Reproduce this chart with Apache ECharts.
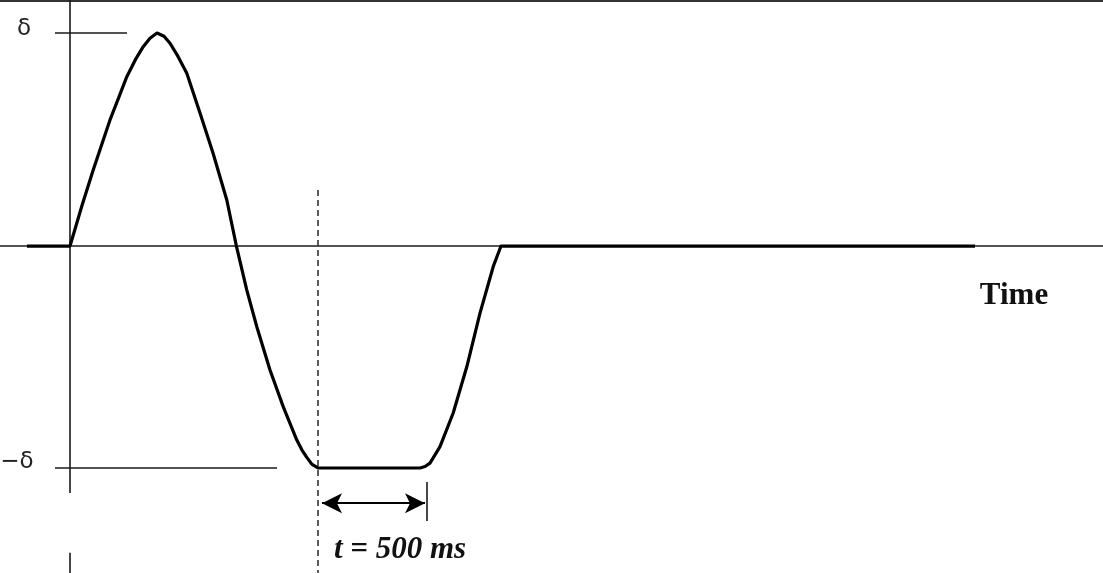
<!DOCTYPE html>
<html>
<head>
<meta charset="utf-8">
<script src="https://cdn.jsdelivr.net/npm/echarts@6/dist/echarts.min.js"></script>
<style>
html,body{margin:0;padding:0;background:#fff;}
#c{width:1103px;height:573px;}
</style>
</head>
<body>
<div id="c"></div>
<script>
// Signal: time in ms, displacement in units of delta
const curveT = [-215, 0, 60, 116, 160, 200, 245, 284, 330, 366, 400, 435, 470, 500, 540, 584, 650, 715, 784, 832, 884, 934, 1000, 1066, 1134, 1160, 1184, 1210, 1240, 1750, 1775, 1800, 1850, 1916, 1984, 2050, 2116, 2155, 4525];
const curveV = [0, 0, 0.19, 0.357, 0.48, 0.592, 0.70, 0.795, 0.88, 0.936, 0.975, 1.0, 0.985, 0.952, 0.89, 0.811, 0.624, 0.437, 0.216, 0, -0.207, -0.379, -0.582, -0.754, -0.911, -0.958, -0.992, -1.025, -1.042, -1.042, -1.035, -1.019, -0.942, -0.784, -0.567, -0.315, -0.097, 0, 0];
// level markers (delta and -delta)
const levelLabels = ['δ', '−δ'];
const levelValues = [1.0, -1.042];
const levelTickStart = [-75, -75];
const levelTickEnd = [285, 1035];
// vertical (displacement) axis segments at t = 0
const vAxisSegments = [[1.16, -1.16], [-1.44, -1.54]];
// dwell annotation
const dwellStart = 1240;      // dashed reference line
const dwellArrowFrom = 1260;
const dwellArrowTo = 1775;
const dwellBarT = 1785;
const dwellArrowLevel = -1.207;
const dwellBarRange = [-1.108, -1.291];
const dwellLabel = 't = 500 ms';
const axisTitle = 'Time';

const chart = echarts.init(document.getElementById('c'), null, {renderer: 'canvas'});
const curveData = curveT.map((t, i) => [t, curveV[i]]);
const ink = '#1a1a1a';

const series = [
  {
    type: 'line', data: curveData, showSymbol: false, smooth: false,
    lineStyle: {color: '#000', width: 3.2, join: 'round'}, z: 5, silent: true
  }
];
vAxisSegments.forEach(seg => {
  series.push({type: 'line', data: [[0, seg[0]], [0, seg[1]]], showSymbol: false,
    lineStyle: {color: ink, width: 1.6}, silent: true});
});
levelValues.forEach((v, i) => {
  series.push({type: 'line', data: [[levelTickStart[i], v], [levelTickEnd[i], v]], showSymbol: false,
    lineStyle: {color: ink, width: 1.6}, silent: true});
});
series.push({type: 'line', data: [[dwellStart, 0.263], [dwellStart, -1.54]], showSymbol: false,
  lineStyle: {color: '#333', width: 1.6, type: [6, 4]}, silent: true});
series.push({type: 'line', data: [[dwellBarT, dwellBarRange[0]], [dwellBarT, dwellBarRange[1]]], showSymbol: false,
  lineStyle: {color: ink, width: 1.6}, silent: true});
series.push({type: 'line', data: [], silent: true,
  markLine: {
    silent: true, symbol: ['arrow', 'arrow'], symbolSize: [15, 20],
    label: {show: false},
    lineStyle: {color: '#000', width: 1.8, type: 'solid'},
    data: [[{coord: [dwellArrowFrom, dwellArrowLevel]}, {coord: [dwellArrowTo, dwellArrowLevel]}]]
  }});

chart.setOption({
  animation: false,
  backgroundColor: '#fff',
  grid: {left: 0, right: 0, top: 0, bottom: 0},
  xAxis: {
    type: 'value', min: -350, max: 5165,
    axisLine: {show: true, onZero: true, lineStyle: {color: ink, width: 1.6}},
    axisTick: {show: false}, axisLabel: {show: false}, splitLine: {show: false}
  },
  yAxis: {
    type: 'value', min: -1.535, max: 1.155, show: false,
    splitLine: {show: false}
  },
  series: series,
  graphic: [
    {type: 'rect', shape: {x: 0, y: 0, width: 1103, height: 2}, style: {fill: '#333'}},
    {type: 'text', x: 24, y: 29, style: {text: levelLabels[0], font: '23px "DejaVu Sans"', fill: '#222', align: 'center', verticalAlign: 'middle'}},
    {type: 'text', x: 17, y: 462, style: {text: levelLabels[1], font: '23px "DejaVu Sans"', fill: '#222', align: 'center', verticalAlign: 'middle'}},
    {type: 'text', x: 1014, y: 296, style: {text: axisTitle, font: 'bold 31px "Liberation Serif"', fill: '#111', align: 'center', verticalAlign: 'middle'}},
    {type: 'text', x: 400, y: 550, style: {text: dwellLabel, font: 'italic bold 31px "Liberation Serif"', fill: '#111', align: 'center', verticalAlign: 'middle'}}
  ]
});
</script>
</body>
</html>
